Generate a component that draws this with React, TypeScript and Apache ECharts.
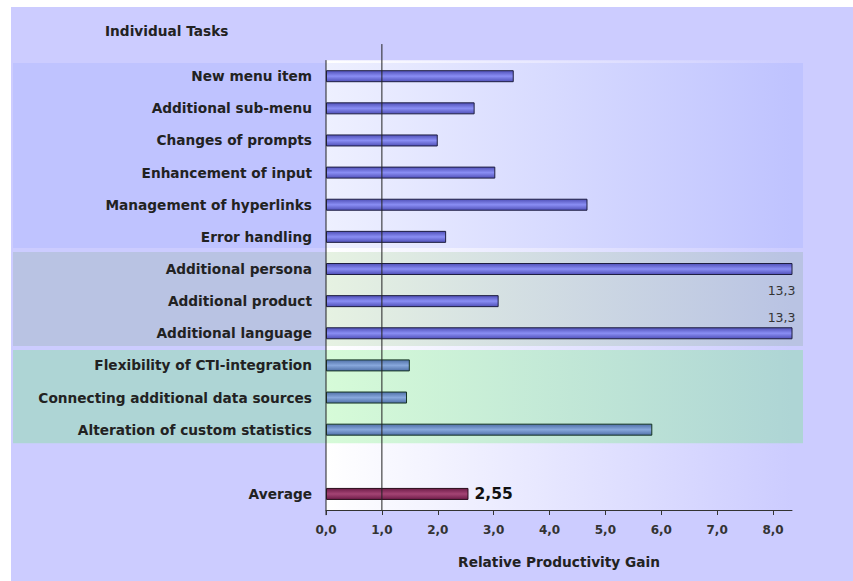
import React, { useEffect, useRef } from 'react';
import * as echarts from 'echarts';

// ---------- data ----------
const categories = [
  '',
  'New menu item',
  'Additional sub-menu',
  'Changes of prompts',
  'Enhancement of input',
  'Management of hyperlinks',
  'Error handling',
  'Additional persona',
  'Additional product',
  'Additional language',
  'Flexibility of CTI-integration',
  'Connecting additional data sources',
  'Alteration of custom statistics',
  ' ',
  'Average',
];
const values: (number | null)[] = [
  null, 3.36, 2.66, 2.0, 3.03, 4.68, 2.15, 13.3, 3.09, 13.3, 1.5, 1.45, 5.84, null, 2.55,
];
const groups = ['', 'A', 'A', 'A', 'A', 'A', 'A', 'B', 'B', 'B', 'C', 'C', 'C', '', 'avg'];
const xTicks = [0, 1, 2, 3, 4, 5, 6, 7, 8];
const referenceValue = 1;
const titleText = 'Individual Tasks';
const axisName = 'Relative Productivity Gain';

// ---------- layout / style ----------
const FONT = 'DejaVu Sans';
const X_MAX = 8.34;
const SLOTS = 15;
// slot-based band limits (in category slot units on the hidden value axis)
const bandLimits = [
  [1.09, 6.85],
  [6.97, 9.9],
  [10.02, 12.92],
];
const bandColors = ['#bfc3ff', '#b9c3e3', '#aed5d5'];
const bandPlotLeft = ['#eef0ff', '#e6f2e2', '#d6fbd8'];

const fmt1 = (v: number) => v.toFixed(1).replace('.', ',');
const fmt2 = (v: number) => v.toFixed(2).replace('.', ',');

const vGrad = (edge: string, mid: string) =>
  new echarts.graphic.LinearGradient(0, 0, 0, 1, [
    { offset: 0, color: edge },
    { offset: 0.5, color: mid },
    { offset: 1, color: edge },
  ]);
const hGrad = (left: string, right: string) =>
  new echarts.graphic.LinearGradient(0, 0, 1, 0, [
    { offset: 0, color: left },
    { offset: 1, color: right },
  ]);

export default function App() {
  const ref = useRef<HTMLDivElement>(null);

  useEffect(() => {
    if (!ref.current) return;
    const chart = echarts.init(ref.current, undefined, { renderer: 'svg' });

    const blueStyle = { color: vGrad('#5050b8', '#8a8ef4'), borderColor: '#1e1e40', borderWidth: 1 };
    const tealStyle = { color: vGrad('#5070a8', '#88a8dc'), borderColor: '#153322', borderWidth: 1 };
    const avgStyle = { color: vGrad('#6e1c48', '#a44474'), borderColor: '#2a0c1c', borderWidth: 1 };

    const barData = values.map((v, i) => {
      if (v == null) return '-';
      const g = groups[i];
      const item: any = {
        value: v,
        itemStyle: g === 'avg' ? avgStyle : g === 'C' ? tealStyle : blueStyle,
      };
      if (v > X_MAX) {
        const below = i === 7;
        item.label = {
          show: true,
          position: below ? ['100%', '100%'] : ['100%', 0],
          align: 'right',
          verticalAlign: below ? 'top' : 'bottom',
          offset: below ? [3, 9] : [3, -3],
          formatter: () => fmt1(v),
          fontFamily: FONT,
          fontSize: 12.5,
          fontWeight: 'normal',
          color: '#333',
        };
      }
      if (g === 'avg') {
        item.label = {
          show: true,
          position: 'right',
          distance: 6,
          formatter: () => fmt2(v),
          fontFamily: FONT,
          fontSize: 15.5,
          fontWeight: 'bold',
          color: '#111',
        };
      }
      return item;
    });

    chart.setOption({
      animation: false,
      backgroundColor: '#ccccff',
      title: {
        text: titleText,
        left: 89,
        top: 12,
        textStyle: { fontFamily: FONT, fontSize: 13.7, fontWeight: 'bold', color: '#222' },
      },
      grid: [
        { left: 315, right: 61, top: 21, bottom: 71 },
        { left: 2, right: 50, top: 21, bottom: 71 },
      ],
      xAxis: [
        {
          type: 'value',
          gridIndex: 0,
          min: 0,
          max: X_MAX,
          interval: 1,
          z: 10,
          splitLine: { show: false },
          axisLine: { show: true, onZero: false, lineStyle: { color: '#333', width: 1 } },
          axisTick: { show: true, length: 5, lineStyle: { color: '#333' }, customValues: xTicks },
          axisLabel: {
            customValues: xTicks,
            formatter: (v: number) => fmt1(v),
            margin: 14,
            fontFamily: FONT,
            fontSize: 12,
            fontWeight: 'bold',
            color: '#333',
          },
          name: axisName,
          nameLocation: 'middle',
          nameGap: 45,
          nameTextStyle: { fontFamily: FONT, fontSize: 13.7, fontWeight: 'bold', color: '#222' },
        },
        { type: 'value', gridIndex: 1, min: 0, max: 1, show: false },
      ],
      yAxis: [
        {
          type: 'category',
          gridIndex: 0,
          inverse: true,
          data: categories,
          z: 10,
          axisLine: { show: false, onZero: false },
          axisTick: { show: false },
          axisLabel: {
            margin: 14,
            fontFamily: FONT,
            fontSize: 13.7,
            fontWeight: 'bold',
            color: '#222',
          },
        },
        { type: 'value', gridIndex: 0, min: 0, max: SLOTS, inverse: true, show: false },
        { type: 'value', gridIndex: 1, min: 0, max: SLOTS, inverse: true, show: false },
      ],
      series: [
        // full-width group bands
        {
          type: 'scatter',
          xAxisIndex: 1,
          yAxisIndex: 2,
          data: [[0, 0]],
          symbolSize: 0,
          silent: true,
          z: 0,
          markArea: {
            silent: true,
            z: 1,
            data: bandLimits.map((b, k) => [
              { coord: [0, b[0]], itemStyle: { color: bandColors[k] } },
              { coord: [1, b[1]] },
            ]),
          },
        },
        // plot-area gradients
        {
          type: 'scatter',
          xAxisIndex: 0,
          yAxisIndex: 1,
          data: [[0, 0]],
          symbolSize: 0,
          silent: true,
          z: 0,
          markArea: {
            silent: true,
            z: 2,
            data: [
              [
                { coord: [0, 1.0], itemStyle: { color: hGrad('#ffffff', '#ccccff') } },
                { coord: [X_MAX, SLOTS] },
              ],
              ...bandLimits.map((b, k) => [
                { coord: [0, b[0]], itemStyle: { color: hGrad(bandPlotLeft[k], bandColors[k]) } },
                { coord: [X_MAX, b[1]] },
              ]),
            ],
          },
        },
        {
          type: 'bar',
          xAxisIndex: 0,
          yAxisIndex: 0,
          data: barData,
          barWidth: 12,
          clip: true,
          z: 3,
        },
        // left axis line (plot area only)
        {
          type: 'line',
          xAxisIndex: 0,
          yAxisIndex: 1,
          data: [[0, 1.0], [0, SLOTS + 0.16]],
          symbol: 'none',
          clip: false,
          lineStyle: { color: '#222', width: 1 },
          silent: true,
          z: 4,
        },
        // reference line at 1,0
        {
          type: 'line',
          xAxisIndex: 0,
          yAxisIndex: 1,
          data: [[referenceValue, 0.5], [referenceValue, SLOTS]],
          symbol: 'none',
          lineStyle: { color: '#222', width: 1 },
          silent: true,
          z: 4,
        },
      ],
    });

    return () => chart.dispose();
  }, []);

  return (
    <div
      ref={ref}
      style={{ position: 'absolute', left: 11, top: 7, width: 842, height: 574 }}
    />
  );
}
